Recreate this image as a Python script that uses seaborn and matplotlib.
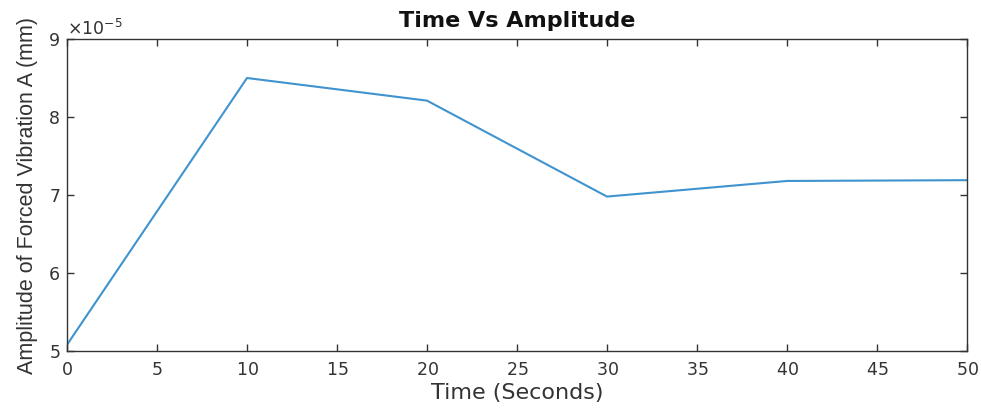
import matplotlib
matplotlib.use("Agg")
import matplotlib.pyplot as plt
import matplotlib.ticker as mticker
import seaborn as sns
import pandas as pd

time_s = [0, 10, 20, 30, 40, 50]
amplitude_mm = [5.08e-5, 8.50e-5, 8.21e-5, 6.98e-5, 7.18e-5, 7.19e-5]
x_ticks = [0, 5, 10, 15, 20, 25, 30, 35, 40, 45, 50]
y_ticks = [5e-5, 6e-5, 7e-5, 8e-5, 9e-5]

sns.set_theme(style="white")
plt.rcParams['font.family'] = ['DejaVu Sans']
plt.rcParams['axes.formatter.use_mathtext'] = True
plt.rcParams['mathtext.fontset'] = 'dejavusans'

df = pd.DataFrame({"Time": time_s, "Amplitude": amplitude_mm})

fig = plt.figure(figsize=(9.81, 4.08), dpi=100)
ax = fig.add_axes([0.0683, 0.1397, 0.9174, 0.7647])
sns.lineplot(data=df, x="Time", y="Amplitude", ax=ax, color="#3f93cf", linewidth=1.5)

ax.set_xlim(0, 50)
ax.set_ylim(5e-5, 9e-5)
ax.set_xticks(x_ticks)
ax.set_yticks(y_ticks)
fmt = mticker.ScalarFormatter(useMathText=True)
fmt.set_powerlimits((-3, 3))
ax.yaxis.set_major_formatter(fmt)
ax.yaxis.get_offset_text().set_fontsize(12.5)
ax.yaxis.get_offset_text().set_color("#333333")

for s in ax.spines.values():
    s.set_visible(True)
    s.set_color("#333333")
    s.set_linewidth(1.0)
ax.tick_params(direction="in", length=5, width=1, colors="#333333",
               labelsize=12.5, top=True, right=True, left=True, bottom=True)
ax.tick_params(axis="x", pad=7)
ax.tick_params(axis="y", pad=5)
ax.tick_params(labelcolor="#333333")

ax.set_xlabel("Time (Seconds)", fontsize=16, color="#333333", labelpad=3)
ax.set_ylabel("Amplitude of Forced Vibration A (mm)", fontsize=15.5, color="#333333",
              labelpad=7, family=["Liberation Sans", "DejaVu Sans"])
ax.set_title("Time Vs Amplitude", fontsize=16, fontweight="bold", color="#111111", pad=9)
ax.grid(False)

fig.savefig("out.png", dpi=100)
